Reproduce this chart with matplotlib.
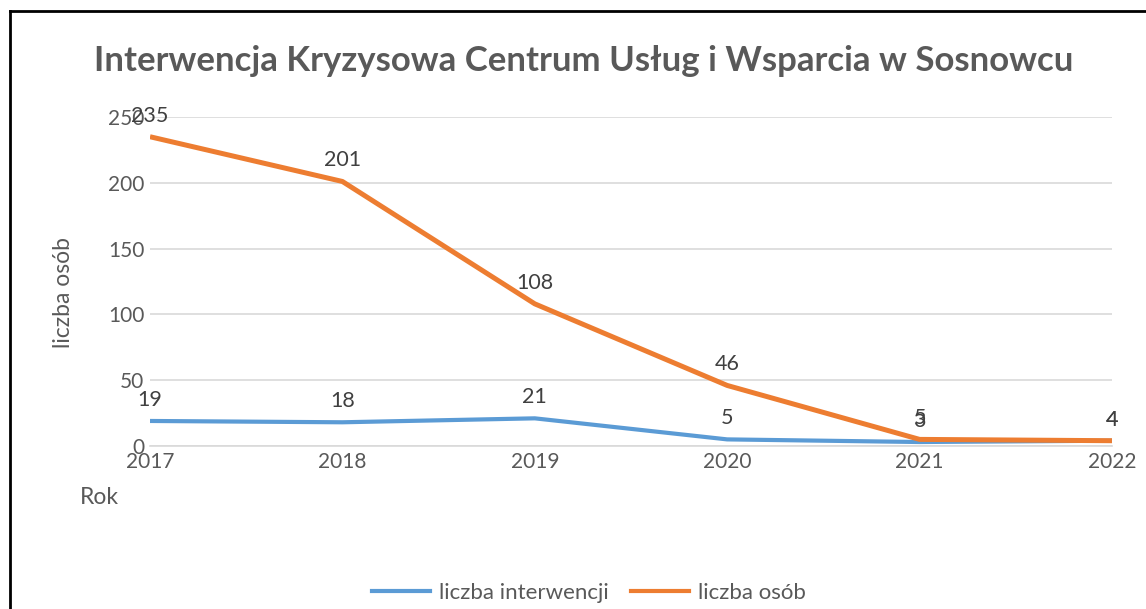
import matplotlib.pyplot as plt
from matplotlib.lines import Line2D

years = ['2017', '2018', '2019', '2020', '2021', '2022']
interwencje = [19, 18, 21, 5, 3, 4]
osoby = [235, 201, 108, 46, 5, 4]

blue = '#5B9BD5'
orange = '#ED7D31'
txt = '#595959'

plt.rcParams['font.family'] = ['Lato', 'DejaVu Sans']

fig = plt.figure(figsize=(11.46, 6.09), dpi=100)
ax = fig.add_axes([0.1309, 0.2677, 0.8394, 0.5402])

x = range(len(years))
ax.plot(x, interwencje, color=blue, lw=3.0, solid_capstyle='butt', label='liczba interwencji', zorder=3)
ax.plot(x, osoby, color=orange, lw=3.6, solid_capstyle='butt', label='liczba osób', zorder=4)

for xi, v in zip(x, interwencje):
    ax.annotate(str(v), (xi, v), xytext=(0, 8), textcoords='offset points',
                ha='center', va='bottom', fontsize=15.5, color='#404040')
for xi, v in zip(x, osoby):
    ax.annotate(str(v), (xi, v), xytext=(0, 8), textcoords='offset points',
                ha='center', va='bottom', fontsize=15.5, color='#404040')

ax.set_xlim(0, len(years) - 1)
ax.set_ylim(0, 250)
ax.set_yticks(range(0, 251, 50))
ax.set_xticks(list(x))
ax.set_xticklabels(years)
ax.grid(axis='y', color='#D9D9D9', lw=1.2)
ax.set_axisbelow(True)
for s in ['top', 'right', 'left']:
    ax.spines[s].set_visible(False)
ax.spines['bottom'].set_color('#D9D9D9')
ax.spines['bottom'].set_linewidth(1.2)
ax.tick_params(axis='both', length=0, labelsize=15, colors=txt)
ax.tick_params(axis='x', pad=4)
ax.tick_params(axis='y', pad=4)

fig.text(0.055, 0.52, 'liczba osób', rotation=90, ha='center', va='center', fontsize=16.5, color=txt)
fig.text(0.087, 0.183, 'Rok', ha='center', va='center', fontsize=16.5, color=txt)

fig.text(0.509, 0.9, 'Interwencja Kryzysowa Centrum Usług i Wsparcia w Sosnowcu',
         ha='center', va='center', fontsize=25, fontweight='bold', color=txt)

handles = [Line2D([], [], color=blue, lw=3.0), Line2D([], [], color=orange, lw=3.0)]
fig.legend(handles, ['liczba interwencji', 'liczba osób'], loc='center', bbox_to_anchor=(0.514, 0.026),
           ncol=2, frameon=False, fontsize=16, labelcolor=txt, handlelength=2.6,
           columnspacing=1.0, handletextpad=0.4)

# chart frame (visible top and left edges)
fig.add_artist(Line2D([0.009, 0.009], [0, 0.982], transform=fig.transFigure, color='black', lw=2))
fig.add_artist(Line2D([0.009, 1.0], [0.982, 0.982], transform=fig.transFigure, color='black', lw=2))

fig.savefig('out.png', dpi=100, facecolor='white')
